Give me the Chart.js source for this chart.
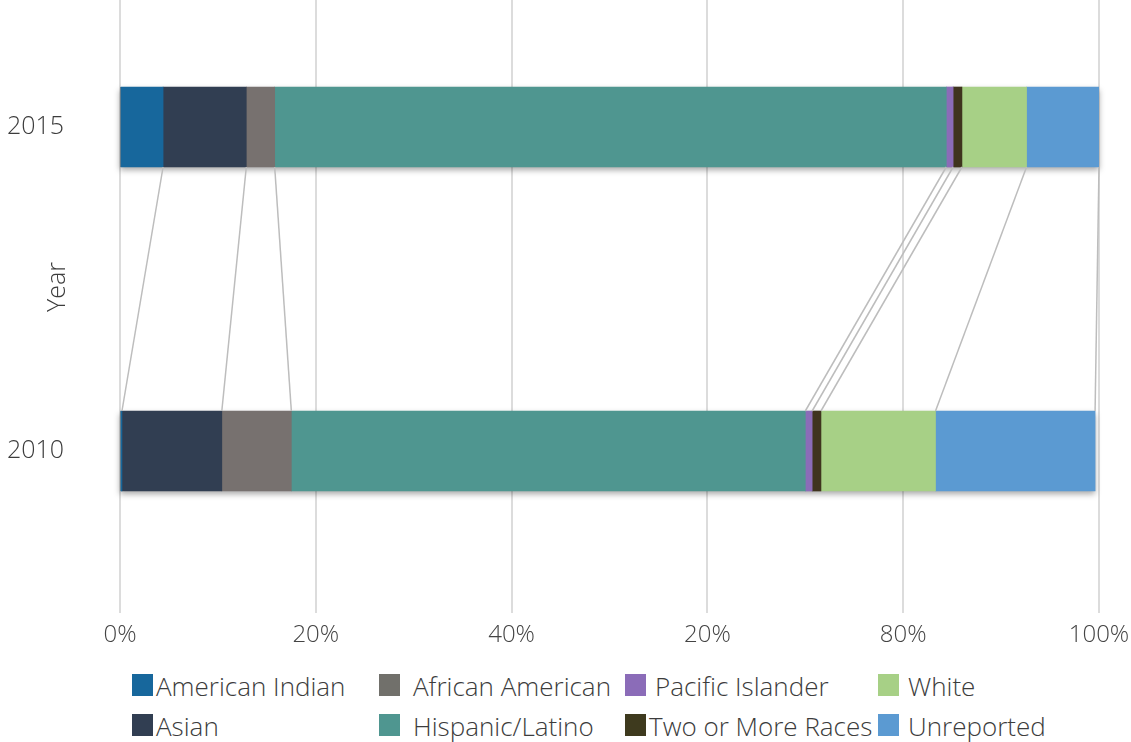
<!DOCTYPE html>
<html>
<head>
<title>Enrollment by Race/Ethnicity, 2010 vs 2015</title>
<script src="https://cdn.jsdelivr.net/npm/chart.js"></script>
<style>
    body {
        margin: 0;
        background: #fff;
        font-family: 'Open Sans', sans-serif;
    }
    .wrap {
        position: relative;
        width: 1131px;
        height: 742px;
        overflow: hidden;
    }
    #raceChart {
        position: absolute;
        left: 0;
        top: -40px;
    }
    .sw, .txt {
        position: absolute;
        transform: translateY(-50%);
    }
    .sw {
        width: 21px;
        height: 22px;
    }
    .txt {
        font-size: 26px;
        font-weight: 300;
        color: #3c3c3c;
        white-space: nowrap;
    }
</style>
</head>
<body>
<div class="wrap">
    <canvas id="raceChart" width="1131" height="700"></canvas>
    <div id="legend"></div>
</div>

<script>
    // years, top bar first
    const years = ['2015', '2010'];
    const xTickLabels = ['0%', '20%', '40%', '20%', '80%', '100%'];

    // share of students (%) per group, [2015, 2010]
    const americanIndian = [4.4, 0.2];
    const asian = [8.5, 10.2];
    const africanAmerican = [2.9, 7.1];
    const hispanicLatino = [68.6, 52.5];
    const pacificIslander = [0.7, 0.7];
    const twoOrMore = [0.9, 0.9];
    const white = [6.6, 11.7];
    const unreported = [7.4, 16.3];

    const groups = [
        { label: 'American Indian', data: americanIndian, color: '#17679c', key: '#17679c' },
        { label: 'Asian', data: asian, color: '#313e52', key: '#313e52' },
        { label: 'African American', data: africanAmerican, color: '#77716f', key: '#71706b' },
        { label: 'Hispanic/Latino', data: hispanicLatino, color: '#4f9690', key: '#4f9690' },
        { label: 'Pacific Islander', data: pacificIslander, color: '#8b6cb8', key: '#8b6cb8' },
        { label: 'Two or More Races', data: twoOrMore, color: '#3f341e', key: '#3e3a1e' },
        { label: 'White', data: white, color: '#a7d086', key: '#a7d086' },
        { label: 'Unreported', data: unreported, color: '#5b9ad2', key: '#5b9ad2' }
    ];

    // soft shadow under each whole bar
    const barShadow = {
        id: 'barShadow',
        beforeDatasetsDraw(chart) {
            const ctx = chart.ctx;
            const xScale = chart.scales.x;
            const lastMeta = chart.getDatasetMeta(chart.data.datasets.length - 1);
            ctx.save();
            ctx.shadowColor = 'rgba(0,0,0,0.35)';
            ctx.shadowBlur = 6;
            ctx.shadowOffsetY = 3;
            ctx.fillStyle = '#888';
            lastMeta.data.forEach(bar => {
                const left = xScale.getPixelForValue(0);
                ctx.fillRect(left, bar.y - bar.height / 2, bar.x - left, bar.height);
            });
            ctx.restore();
        }
    };

    // thin lines joining segment edges of the 2015 bar to the 2010 bar
    const connectors = {
        id: 'connectors',
        afterDatasetsDraw(chart) {
            const ctx = chart.ctx;
            ctx.save();
            ctx.strokeStyle = '#bdbdbd';
            ctx.lineWidth = 1.5;
            chart.data.datasets.forEach((ds, i) => {
                const meta = chart.getDatasetMeta(i);
                const top = meta.data[0];
                const bottom = meta.data[1];
                ctx.beginPath();
                ctx.moveTo(top.x, top.y + top.height / 2);
                ctx.lineTo(bottom.x, bottom.y - bottom.height / 2);
                ctx.stroke();
            });
            ctx.restore();
        }
    };

    // rotated "Year" label sitting between the two bars
    const yearTitle = {
        id: 'yearTitle',
        afterDraw(chart) {
            const ctx = chart.ctx;
            const area = chart.chartArea;
            ctx.save();
            ctx.translate(58, (area.top + area.bottom) / 2 - 2);
            ctx.rotate(-Math.PI / 2);
            ctx.font = '300 25px "Open Sans"';
            ctx.fillStyle = '#3c3c3c';
            ctx.textAlign = 'center';
            ctx.textBaseline = 'middle';
            ctx.fillText('Year', 0, 0);
            ctx.restore();
        }
    };

    const raceChart = new Chart(document.getElementById('raceChart'), {
        type: 'bar',
        data: {
            labels: years,
            datasets: groups.map(g => ({
                label: g.label,
                data: g.data,
                backgroundColor: g.color,
                borderWidth: 0,
                barThickness: 80
            }))
        },
        options: {
            indexAxis: 'y',
            responsive: false,
            animation: false,
            layout: { padding: { top: 5, right: 32, left: 0, bottom: 0 } },
            scales: {
                x: {
                    stacked: true,
                    min: 0,
                    max: 100,
                    border: { display: false },
                    grid: { color: '#dcdcdc', lineWidth: 2, drawTicks: false },
                    ticks: {
                        stepSize: 20,
                        padding: 8,
                        color: '#444',
                        font: { family: 'Open Sans', size: 24, weight: 300 },
                        callback: (v, i) => xTickLabels[i]
                    },
                    afterFit: scale => {
                        scale.height = 47;
                        scale.paddingLeft = 0;
                        scale.paddingRight = 0;
                    }
                },
                y: {
                    stacked: true,
                    offset: true,
                    border: { display: false },
                    grid: { display: false },
                    ticks: {
                        padding: 48,
                        color: '#3c3c3c',
                        font: { family: 'Open Sans', size: 25, weight: 300 }
                    },
                    afterFit: scale => {
                        scale.width = 120;
                        scale.paddingTop = 0;
                        scale.paddingBottom = 0;
                    }
                }
            },
            plugins: {
                legend: { display: false },
                tooltip: { enabled: false }
            }
        },
        plugins: [barShadow, connectors, yearTitle]
    });

    // legend laid out column by column, two rows
    const swatchX = [132, 379, 625, 878];
    const textX = [[156, 156], [413, 413], [655, 649], [908, 908]];
    const rowY = [685, 725];
    const legendEl = document.getElementById('legend');
    groups.forEach((g, i) => {
        const col = Math.floor(i / 2);
        const row = i % 2;
        const sw = document.createElement('div');
        sw.className = 'sw';
        sw.style.left = swatchX[col] + 'px';
        sw.style.top = rowY[row] + 'px';
        sw.style.background = g.key;
        const txt = document.createElement('div');
        txt.className = 'txt';
        txt.style.left = textX[col][row] + 'px';
        txt.style.top = (rowY[row] + 1) + 'px';
        txt.textContent = g.label;
        legendEl.appendChild(sw);
        legendEl.appendChild(txt);
    });
</script>
</body>
</html>
